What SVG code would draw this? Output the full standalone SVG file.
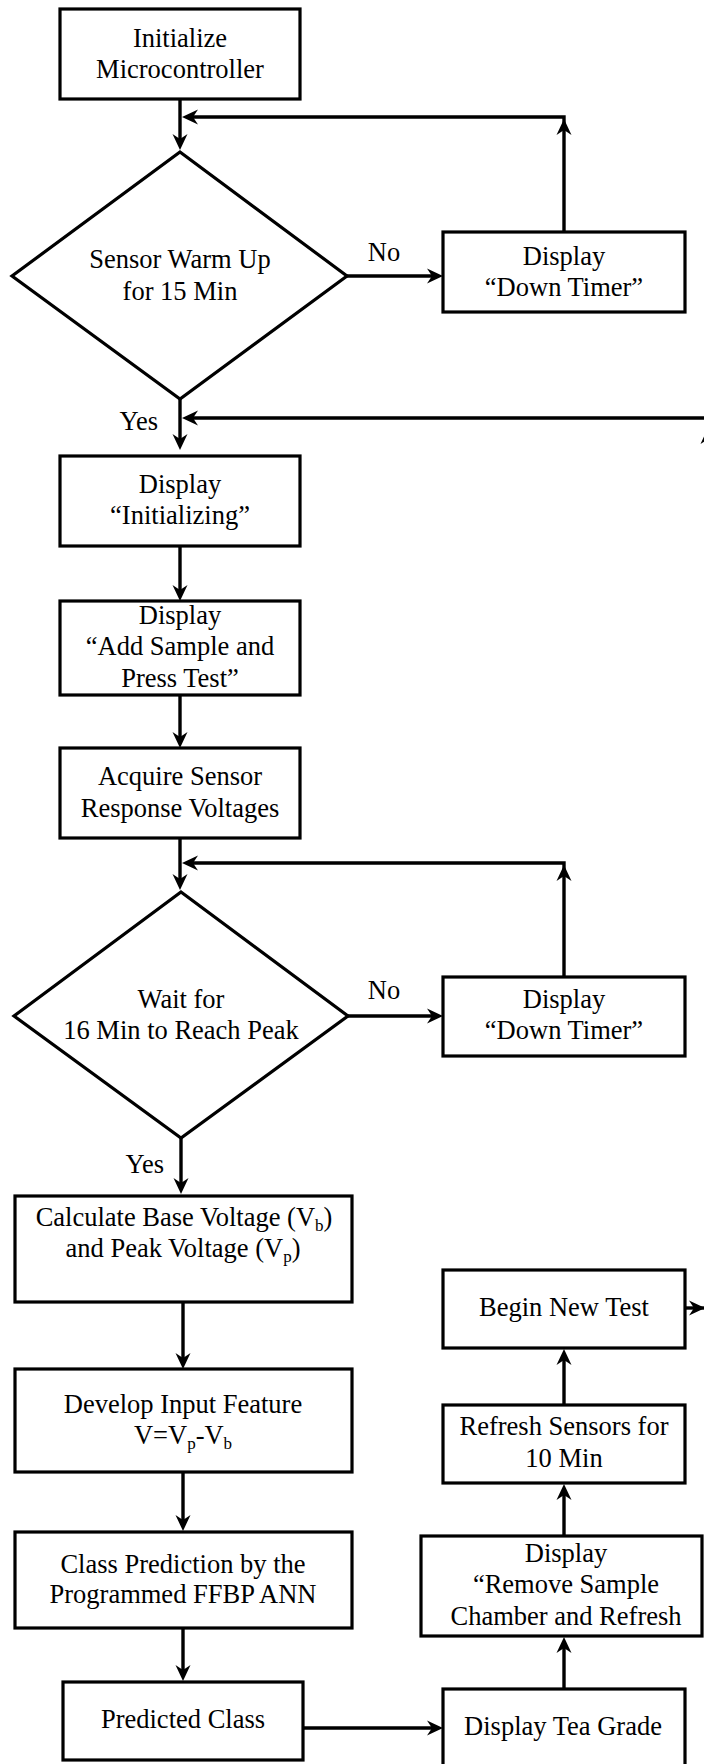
<svg xmlns="http://www.w3.org/2000/svg" xmlns:xlink="http://www.w3.org/1999/xlink" width="704" height="1764" viewBox="0 0 704 1764">
<style>
.box{fill:#fff;stroke:#000;stroke-width:3.2}
.ln{fill:none;stroke:#000;stroke-width:3.4;stroke-linejoin:miter}
text{font-family:"Liberation Serif","Times New Roman",serif;font-size:26.5px;fill:#000;text-anchor:middle}
.sub{font-size:17px}
</style>
<defs>
<path id="ah" d="M0,0 L-16,-7.5 L-11,0 L-16,7.5 Z" fill="#000"/>
</defs>
<rect x="0" y="0" width="704" height="1764" fill="#fff"/>
<g id="connectors">
<path class="ln" d="M180,99 V140"/>
<use xlink:href="#ah" transform="translate(180,150) rotate(90)"/>
<path class="ln" d="M564,232 V117 H192"/>
<use xlink:href="#ah" transform="translate(564,119) rotate(-90)"/>
<use xlink:href="#ah" transform="translate(182,117) rotate(180)"/>
<path class="ln" d="M347,276 H433"/>
<use xlink:href="#ah" transform="translate(443,276) rotate(0)"/>
<path class="ln" d="M180,399 V440"/>
<use xlink:href="#ah" transform="translate(180,450) rotate(90)"/>
<path class="ln" d="M712,1308 V418 H192"/>
<use xlink:href="#ah" transform="translate(708,428) rotate(-90)"/>
<use xlink:href="#ah" transform="translate(182,418) rotate(180)"/>
<path class="ln" d="M180,546 V591"/>
<use xlink:href="#ah" transform="translate(180,601) rotate(90)"/>
<path class="ln" d="M180,695 V738"/>
<use xlink:href="#ah" transform="translate(180,748) rotate(90)"/>
<path class="ln" d="M180,838 V880"/>
<use xlink:href="#ah" transform="translate(180,890) rotate(90)"/>
<path class="ln" d="M564,977 V863 H192"/>
<use xlink:href="#ah" transform="translate(564,865) rotate(-90)"/>
<use xlink:href="#ah" transform="translate(182,863) rotate(180)"/>
<path class="ln" d="M347,1016 H433"/>
<use xlink:href="#ah" transform="translate(443,1016) rotate(0)"/>
<path class="ln" d="M181,1138 V1184"/>
<use xlink:href="#ah" transform="translate(181,1194) rotate(90)"/>
<path class="ln" d="M183,1302 V1359"/>
<use xlink:href="#ah" transform="translate(183,1369) rotate(90)"/>
<path class="ln" d="M183,1472 V1521"/>
<use xlink:href="#ah" transform="translate(183,1531) rotate(90)"/>
<path class="ln" d="M183,1628 V1671"/>
<use xlink:href="#ah" transform="translate(183,1681) rotate(90)"/>
<path class="ln" d="M303,1728 H433"/>
<use xlink:href="#ah" transform="translate(443,1728) rotate(0)"/>
<path class="ln" d="M564,1689 V1647"/>
<use xlink:href="#ah" transform="translate(564,1637) rotate(-90)"/>
<path class="ln" d="M564,1536 V1494"/>
<use xlink:href="#ah" transform="translate(564,1484) rotate(-90)"/>
<path class="ln" d="M564,1405 V1359"/>
<use xlink:href="#ah" transform="translate(564,1349) rotate(-90)"/>
<path class="ln" d="M685,1308 H712"/>
<use xlink:href="#ah" transform="translate(705,1308) rotate(0)"/>
</g>
<g id="n1"><rect class="box" x="60" y="9" width="240" height="90"/><text x="180" y="46.7">Initialize</text><text x="180" y="77.7">Microcontroller</text></g>
<g id="d1"><polygon class="box" points="180,152 347,276 180,399 12,276"/><text x="180" y="268.3">Sensor Warm Up</text><text x="180" y="300">for 15 Min</text></g>
<g id="n2"><rect class="box" x="443" y="232" width="242" height="80"/><text x="564" y="265">Display</text><text x="564" y="296">“Down Timer”</text></g>
<g id="l-no1"><text x="384" y="260.7">No</text></g>
<g id="l-yes1"><text x="158" y="430" style="text-anchor:end">Yes</text></g>
<g id="n3"><rect class="box" x="60" y="456" width="240" height="90"/><text x="180" y="493.3">Display</text><text x="180" y="524">“Initializing”</text></g>
<g id="n4"><rect class="box" x="60" y="601" width="240" height="94"/><text x="180" y="624">Display</text><text x="180" y="655">“Add Sample and</text><text x="180" y="686.7">Press Test”</text></g>
<g id="n5"><rect class="box" x="60" y="748" width="240" height="90"/><text x="180" y="785">Acquire Sensor</text><text x="180" y="816.7">Response Voltages</text></g>
<g id="d2"><polygon class="box" points="181,892 348,1016 181,1138 14,1016"/><text x="181" y="1007.7">Wait for</text><text x="181" y="1039.3">16 Min to Reach Peak</text></g>
<g id="n6"><rect class="box" x="443" y="977" width="242" height="79"/><text x="564" y="1008.3">Display</text><text x="564" y="1039.3">“Down Timer”</text></g>
<g id="l-no2"><text x="384" y="999.3">No</text></g>
<g id="l-yes2"><text x="164" y="1173.3" style="text-anchor:end">Yes</text></g>
<g id="n7"><rect class="box" x="15" y="1196" width="337" height="106"/><text x="184" y="1226">Calculate Base Voltage (V<tspan class="sub" dy="5">b</tspan><tspan dy="-5">)</tspan></text><text x="183" y="1257">and Peak Voltage (V<tspan class="sub" dy="5">p</tspan><tspan dy="-5">)</tspan></text></g>
<g id="n8"><rect class="box" x="15" y="1369" width="337" height="103"/><text x="183" y="1413">Develop Input Feature</text><text x="183" y="1444">V=V<tspan class="sub" dy="5">p</tspan><tspan dy="-5">-V</tspan><tspan class="sub" dy="5">b</tspan></text></g>
<g id="n9"><rect class="box" x="15" y="1532" width="337" height="96"/><text x="183" y="1572.7">Class Prediction by the</text><text x="183" y="1603.3">Programmed FFBP ANN</text></g>
<g id="n10"><rect class="box" x="63" y="1682" width="240" height="78"/><text x="183" y="1728.3">Predicted Class</text></g>
<g id="n11"><rect class="box" x="443" y="1689" width="242" height="100"/><text x="563" y="1735">Display Tea Grade</text></g>
<g id="n12"><rect class="box" x="421" y="1536" width="281" height="100"/><text x="566" y="1561.7">Display</text><text x="566" y="1593.3">“Remove Sample</text><text x="566" y="1625">Chamber and Refresh</text></g>
<g id="n13"><rect class="box" x="443" y="1405" width="242" height="78"/><text x="564" y="1435">Refresh Sensors for</text><text x="564" y="1467.3">10 Min</text></g>
<g id="n14"><rect class="box" x="443" y="1270" width="242" height="78"/><text x="564" y="1316">Begin New Test</text></g>
</svg>
